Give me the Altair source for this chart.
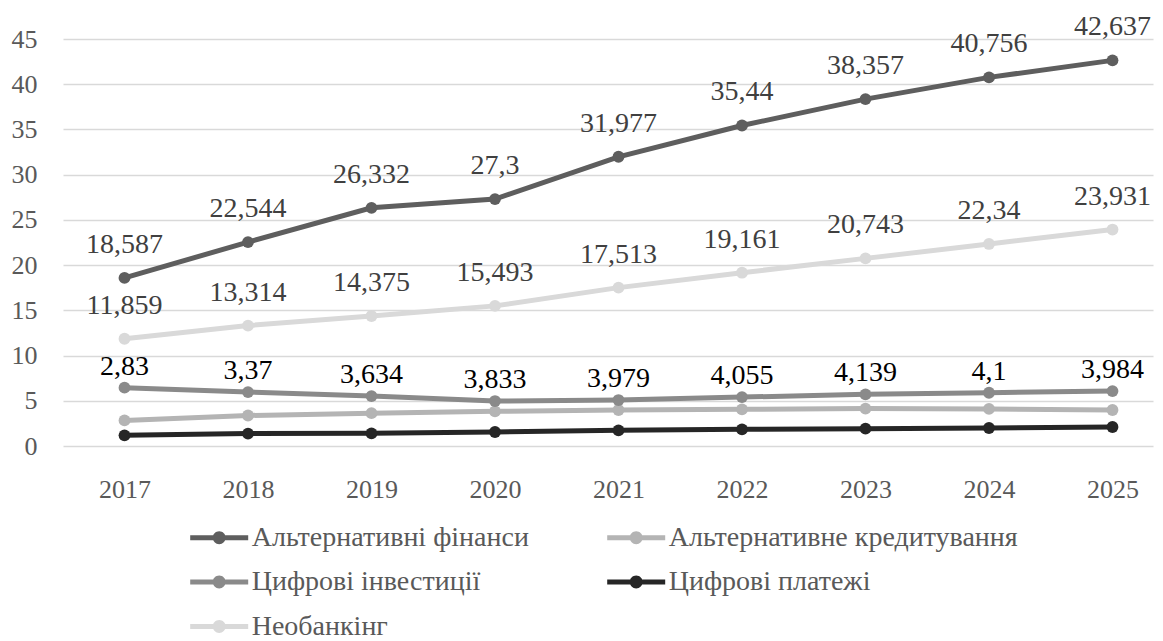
import altair as alt
import pandas as pd

years = [2017, 2018, 2019, 2020, 2021, 2022, 2023, 2024, 2025]
series_names = [
    "Альтернативні фінанси",
    "Альтернативне кредитування",
    "Цифрові інвестиції",
    "Цифрові платежі",
    "Необанкінг",
]
alt_finance = [18.587, 22.544, 26.332, 27.3, 31.977, 35.44, 38.357, 40.756, 42.637]
alt_credit = [2.83, 3.37, 3.634, 3.833, 3.979, 4.055, 4.139, 4.1, 3.984]
digital_invest = [6.45, 5.96, 5.52, 4.97, 5.08, 5.41, 5.71, 5.89, 6.07]
digital_pay = [1.18, 1.37, 1.40, 1.55, 1.73, 1.84, 1.92, 1.99, 2.10]
neobank = [11.859, 13.314, 14.375, 15.493, 17.513, 19.161, 20.743, 22.34, 23.931]
colors = ["#5e5e5e", "#b4b4b4", "#8a8a8a", "#262626", "#d9d9d9"]

values = [alt_finance, alt_credit, digital_invest, digital_pay, neobank]
rows = []
for name, vals in zip(series_names, values):
    for y, v in zip(years, vals):
        rows.append({"year": y, "series": name, "value": v})
df = pd.DataFrame(rows)

top_lab = df[df["series"].isin(["Альтернативні фінанси", "Необанкінг"])]
bottom_lab = pd.DataFrame({"year": years, "pos": digital_invest, "value": alt_credit})

FONT = "Liberation Serif"
xscale = alt.Scale(domain=[2016.502, 2025.328], nice=False, zero=False)
yscale = alt.Scale(domain=[0, 45], nice=False)
cscale = alt.Scale(domain=series_names, range=colors)

x_axis = alt.Axis(values=years, format="d", grid=False, ticks=False, domain=False,
                  labelPadding=30, labelFontSize=26, labelFont=FONT, labelColor="#595959",
                  labelOverlap=False, title=None)
y_axis = alt.Axis(values=list(range(0, 50, 5)), grid=True, gridColor="#d9d9d9", gridWidth=1.3,
                  ticks=False, domain=False, labelPadding=26, labelFontSize=26, labelFont=FONT,
                  labelColor="#595959", title=None)

sym = ("M-1.3,-0.112 L-0.25,-0.112 L-0.25,0.112 L-1.3,0.112 Z "
       "M0.25,-0.112 L1.3,-0.112 L1.3,0.112 L0.25,0.112 Z "
       "M0.29,0 A0.29,0.29 0 1 1 -0.29,0 A0.29,0.29 0 1 1 0.29,0 Z")

base = alt.Chart(df)
lines = base.mark_line(strokeWidth=5).encode(
    x=alt.X("year:Q", scale=xscale, axis=x_axis),
    y=alt.Y("value:Q", scale=yscale, axis=y_axis),
    color=alt.Color("series:N", scale=cscale, sort=series_names, legend=None),
    detail="series:N",
)
points = base.mark_circle(size=140, opacity=1).encode(
    x=alt.X("year:Q", scale=xscale),
    y=alt.Y("value:Q", scale=yscale),
    color=alt.Color("series:N", scale=cscale, sort=series_names,
                    legend=alt.Legend(orient="none", legendX=133.7, legendY=476, columns=2,
                                      direction="horizontal",
                                      title=None, symbolType=sym, symbolSize=1990,
                                      symbolStrokeWidth=0, symbolOpacity=1,
                                      labelFont=FONT, labelFontSize=28,
                                      labelColor="#595959", labelOffset=10, labelLimit=600,
                                      columnPadding=77, rowPadding=7.5, padding=0,
                                      gridAlign="each")),
)
labels_top = alt.Chart(top_lab).transform_calculate(
    lab="replace(toString(datum.value), '.', ',')"
).mark_text(font=FONT, fontSize=28, color="#404040", dy=-33, baseline="middle").encode(
    x=alt.X("year:Q", scale=xscale),
    y=alt.Y("value:Q", scale=yscale),
    text="lab:N",
)
labels_bottom = alt.Chart(bottom_lab).transform_calculate(
    lab="replace(toString(datum.value), '.', ',')"
).mark_text(font=FONT, fontSize=28, color="#000000", dy=-21, baseline="middle").encode(
    x=alt.X("year:Q", scale=xscale),
    y=alt.Y("pos:Q", scale=yscale),
    text="lab:N",
)

chart = alt.layer(lines, points, labels_top, labels_bottom).resolve_legend(
    color="independent"
).properties(
    width=1090, height=407,
    autosize=alt.AutoSizeParams(type="none"),
    padding={"left": 55, "top": 31, "right": 2, "bottom": 195},
).configure_view(stroke=None)

chart.save("out.html", embed_options={"renderer": "svg", "actions": False})
